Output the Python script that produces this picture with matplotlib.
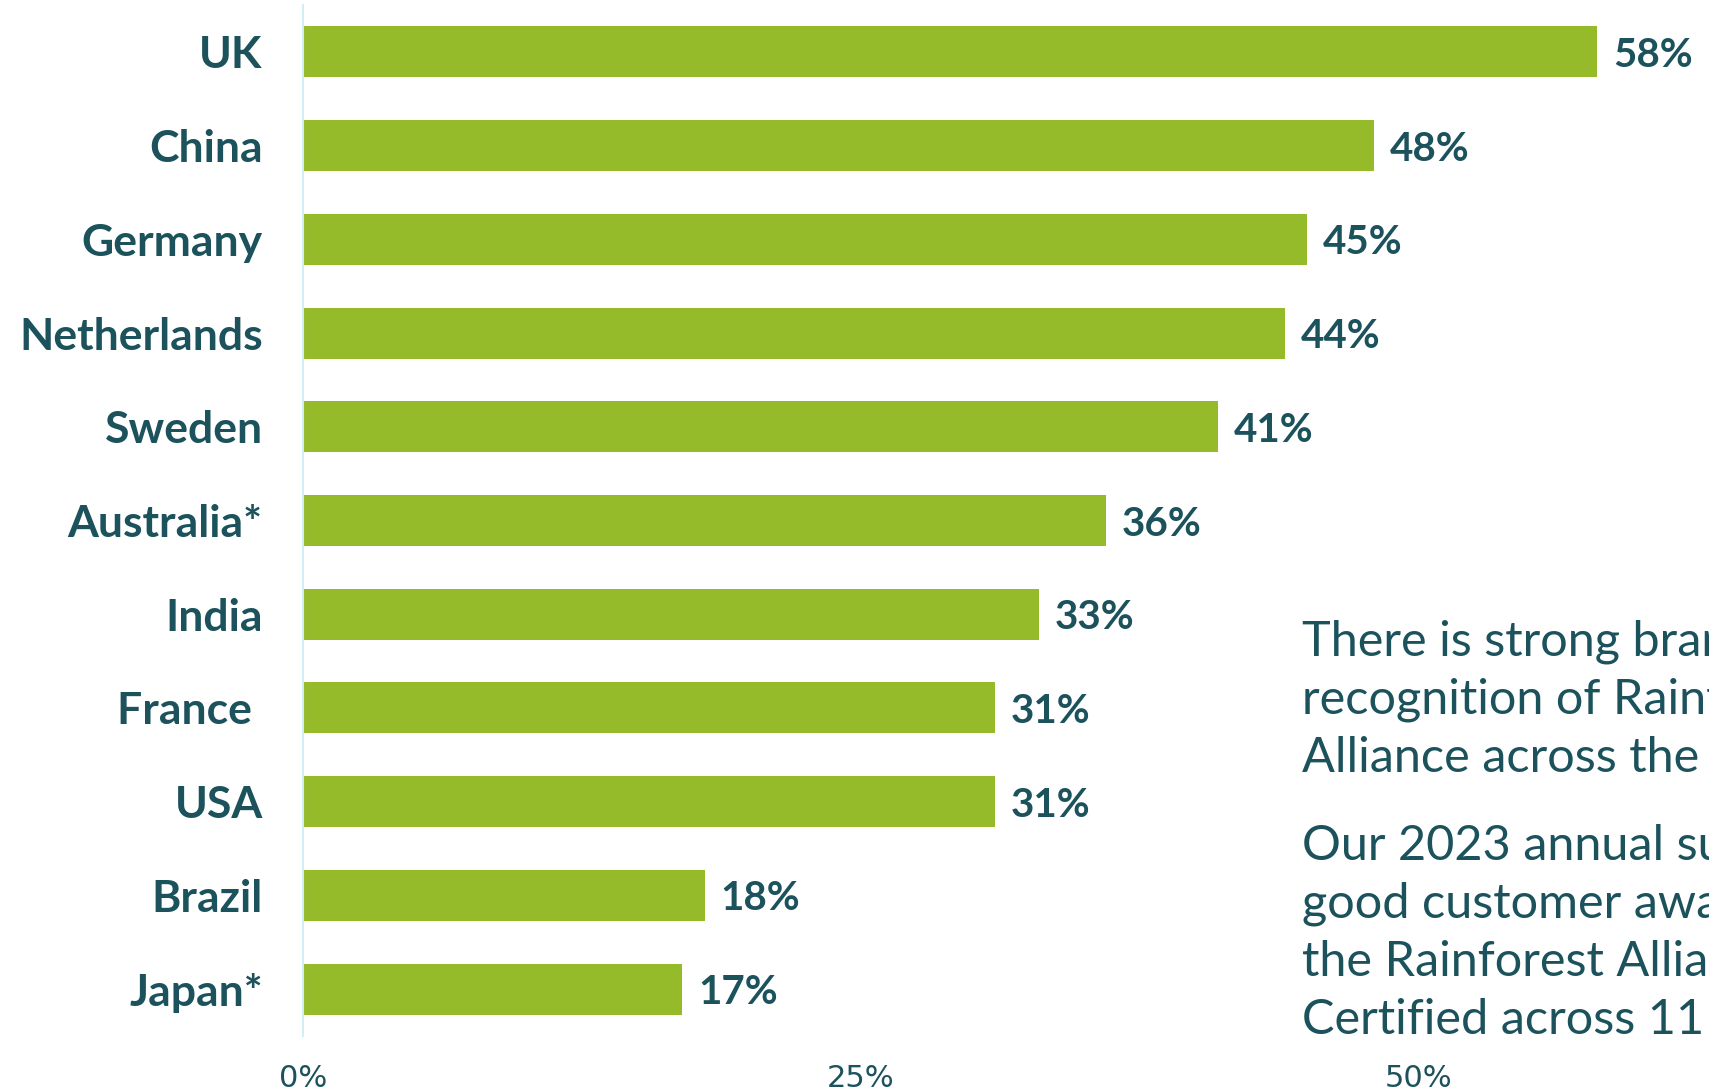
import matplotlib
matplotlib.use("Agg")
import matplotlib.pyplot as plt

# Share of consumers recognising the seal, by market
countries = ["UK", "China", "Germany", "Netherlands", "Sweden", "Australia*",
             "India", "France ", "USA", "Brazil", "Japan*"]
values = [58, 48, 45, 44, 41, 36, 33, 31, 31, 18, 17]
tick_values = [0, 25, 50]
tick_labels = ["0%", "25%", "50%"]

para1 = ["There is strong brand", "recognition of Rainforest", "Alliance across the world."]
para2 = ["Our 2023 annual survey shows", "good customer awareness of",
         "the Rainforest Alliance seal", "Certified across 11 markets"]

GREEN = "#95BA2A"
TEAL = "#1B525C"
AXIS = "#D3EDF5"

W, H = 1709, 1092
fig = plt.figure(figsize=(W / 100, H / 100), dpi=100)
ax = fig.add_axes([303 / W, 1 - 1036 / H, 1 - 303 / W, (1036 - 5) / H])

ypos = list(range(len(countries)))
ax.barh(ypos, values, height=0.545, color=GREEN)
for y, v in zip(ypos, values):
    ax.text(v + 0.7, y, f"{v}%", va="center_baseline", ha="left", fontsize=29,
            fontweight="bold", color=TEAL, family="Lato")

ax.set_xlim(0, 63)
ax.set_ylim(10.5, -0.5)
ax.set_yticks(ypos)
ax.set_yticklabels(countries, fontsize=32, fontweight="bold", color=TEAL, family="Lato")
ax.set_xticks(tick_values)
ax.set_xticklabels(tick_labels, fontsize=22, color=TEAL, family="Liberation Sans Narrow")
ax.tick_params(axis="y", length=0, pad=29)
ax.tick_params(axis="x", length=0, pad=20)
for side in ["top", "right", "bottom"]:
    ax.spines[side].set_visible(False)
ax.spines["left"].set_color(AXIS)
ax.spines["left"].set_linewidth(1.5)

# Commentary text on the right (runs off the canvas as in the original)
x0 = 1302 / W
for i, line in enumerate(para1):
    fig.text(x0, 1 - (655 + i * 58.5) / H, line, fontsize=35, color=TEAL,
             family="Lato", va="baseline")
for i, line in enumerate(para2):
    fig.text(x0, 1 - (860 + i * 58) / H, line, fontsize=35, color=TEAL,
             family="Lato", va="baseline")

fig.savefig("out.png", dpi=100)
